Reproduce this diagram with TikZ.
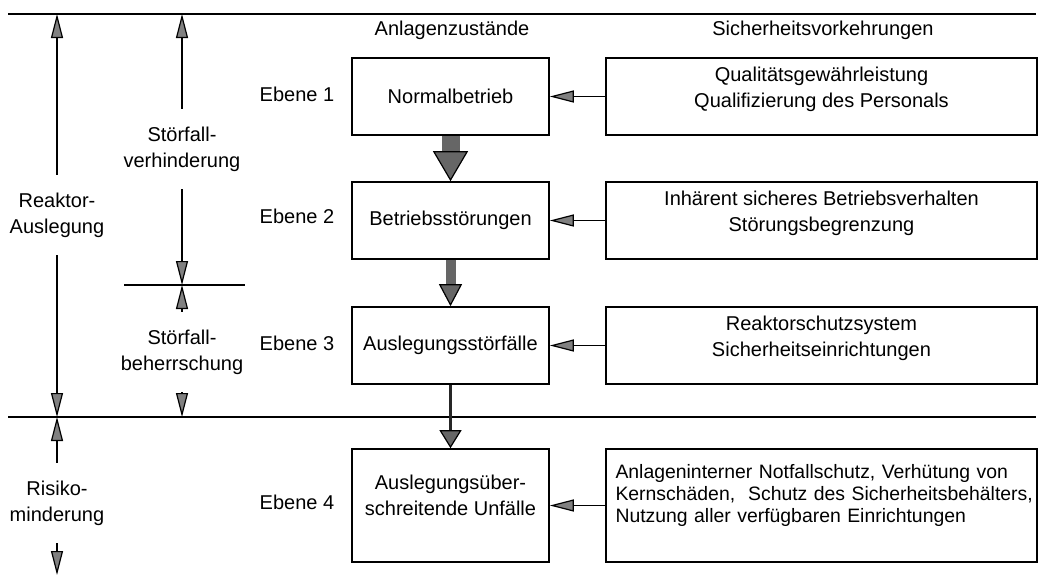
\documentclass[tikz,border=0pt]{standalone}
\usepackage{fontspec}
\setmainfont{Liberation Sans}
\usetikzlibrary{arrows.meta}

\begin{document}
\begin{tikzpicture}
	[x=0.5pt,y=-0.5pt,thick,font=\fontsize{10}{13}\selectfont,
		zustand/.style={draw,minimum width=98.5pt,minimum height=38.5pt,align=center,inner sep=2pt},
		vorkehr/.style={draw,minimum width=215.5pt,minimum height=38.5pt,align=center,inner sep=2pt},
		mass/.style={align=center,inner xsep=1pt,inner ysep=8.5pt},
		spitze/.style={-{Triangle[length=12pt,width=6pt,color=black,fill=black!50,line width=0.6pt]}},
		block/.style n args={3}{line width=#1,draw=black!60,-{Triangle[length=#3,width=#2,color=black,fill=black!60,line width=0.6pt]}}]

	\useasboundingbox (0,0) rectangle (1040,585);

	% Linien
	\coordinate (oL) at (8,14);    \coordinate (oR) at (1036,14);
	\coordinate (mL) at (8,417);   \coordinate (mR) at (1036,417);
	\coordinate (kL) at (124,285); \coordinate (kR) at (245,285);
	\draw (oL) -- (oR);
	\draw (mL) -- (mR);
	\draw (kL) -- (kR);

	% Spaltenkoepfe
	\node (H1) at (452,30) {Anlagenzustände};
	\node (H2) at (823,30) {Sicherheitsvorkehrungen};

	% Anlagenzustaende
	\node[zustand] (Z1) at (450.5,96.5)  {Normalbetrieb};
	\node[zustand] (Z2) at (450.5,220.5) {Betriebsstörungen};
	\node[zustand] (Z3) at (450.5,345.5) {Auslegungsstörfälle};
	\node[zustand,minimum height=56.5pt] (Z4) at (450.5,505.5) {Auslegungsüber-\\schreitende Unfälle\\[-3pt]\mbox{}};

	% Sicherheitsvorkehrungen
	\node[vorkehr] (S1) at (821.5,96.5)  {Qualitätsgewährleistung\\Qualifizierung des Personals\\[-4pt]\mbox{}};
	\node[vorkehr] (S2) at (821.5,220.5) {Inhärent sicheres Betriebsverhalten\\Störungsbegrenzung\\[-4pt]\mbox{}};
	\node[vorkehr] (S3) at (821.5,345.5) {Reaktorschutzsystem\\Sicherheitseinrichtungen\\[-4pt]\mbox{}};
	\node[vorkehr,minimum height=56.5pt,align=left,text width=206pt,font=\fontsize{9.7}{11}\selectfont] (S4) at (821.5,505.5)
		{\mbox{Anlageninterner Notfallschutz, Verhütung von}\\\mbox{Kernschäden,\ \ Schutz des Sicherheitsbehälters,}\\\mbox{Nutzung aller verfügbaren Einrichtungen}\\[1pt]\mbox{}};

	% Ebenen
	\node (E1) at (297,94)  {Ebene 1};
	\node (E2) at (297,216) {Ebene 2};
	\node (E3) at (297,343) {Ebene 3};
	\node (E4) at (297,502) {Ebene 4};

	% Bemassung links
	\node[mass] (RA) at (57,215)  {Reaktor-\\Auslegung};
	\node[mass] (SV) at (182,149) {Störfall-\\verhinderung};
	\node[mass] (SB) at (182,352) {Störfall-\\beherrschung};
	\node[mass] (RM) at (57,503)  {Risiko-\\minderung};
	\coordinate (RAo) at (57,14);  \coordinate (RAu) at (57,417);
	\coordinate (SVo) at (182,14); \coordinate (SVu) at (182,285);
	\coordinate (SBo) at (182,285);\coordinate (SBu) at (182,417);
	\coordinate (RMo) at (57,417); \coordinate (RMu) at (57,575);

	\path[spitze]
	(RA) edge (RAo)
	(RA) edge (RAu)
	(SV) edge (SVo)
	(SV) edge (SVu)
	(SB) edge (SBo)
	(SB) edge (SBu)
	(RM) edge (RMo)
	(RM) edge (RMu)
	(S1) edge (Z1)
	(S2) edge (Z2)
	(S3) edge (Z3)
	(S4) edge (Z4)
	;

	% Uebergaenge
	\draw[block={9pt}{17.5pt}{15pt}] (Z1) -- (Z2);
	\draw[block={5pt}{11.5pt}{11pt}] (Z2) -- (Z3);
	\draw[block={1.5pt}{11pt}{9pt},draw=black!85] (Z3) -- (Z4);

\end{tikzpicture}
\end{document}
